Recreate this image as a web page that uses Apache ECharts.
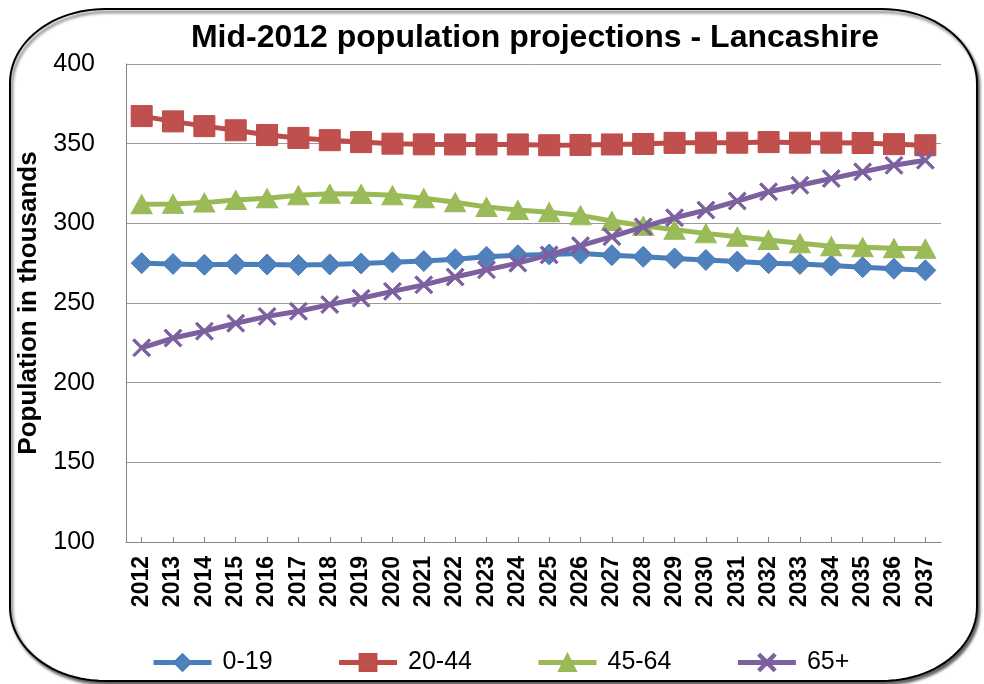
<!DOCTYPE html>
<html>
<head>
<meta charset="utf-8">
<script src="https://cdn.jsdelivr.net/npm/echarts@6/dist/echarts.min.js"></script>
<style>
html,body{margin:0;padding:0;background:#fff;}
#chart{width:984px;height:684px;}
</style>
</head>
<body>
<div id="chart"></div>
<script>
const titleText = 'Mid-2012 population projections - Lancashire';
const yAxisName = 'Population in thousands';
const years = ['2012','2013','2014','2015','2016','2017','2018','2019','2020','2021','2022','2023','2024','2025','2026','2027','2028','2029','2030','2031','2032','2033','2034','2035','2036','2037'];
const seriesNames = ['0-19','20-44','45-64','65+'];
const age0to19 = [275, 274.5, 274, 274.3, 274.2, 273.8, 274.2, 274.8, 275.5, 276.3, 277.5, 279, 280, 280.5, 281, 280, 279, 278, 277, 276, 275, 274.5, 273.5, 272.5, 271.5, 270.5];
const age20to44 = [367.3, 364, 361, 358.4, 355.4, 353.6, 352.2, 351, 350, 349.6, 349.5, 349.5, 349.5, 349, 349.2, 349.5, 349.8, 350.5, 350.6, 350.6, 351, 350.6, 350.6, 350.4, 349.7, 349];
const age45to64 = [312, 312.2, 313, 314.6, 315.8, 317.6, 318.6, 318.4, 317.6, 315.8, 313.2, 310.3, 308.4, 307, 305, 301.5, 298.5, 296, 293.7, 291.6, 289.6, 287.5, 285.6, 285, 284.4, 284];
const age65plus = [221.9, 228, 232.3, 237.3, 241.6, 244.8, 249, 253, 257.3, 261.4, 266.3, 270.8, 275, 280.2, 286, 291.6, 297.8, 303.5, 308.3, 314, 319.8, 323.9, 328.1, 332.3, 336.4, 339.6];
const yMin = 100, yMax = 400, yStep = 50;

const crossPath = 'path://M0,1L1,0L5,4L9,0L10,1L6,5L10,9L9,10L5,6L1,10L0,9L4,5Z';
const styles = [
  {line:'#4A7EBB', fill:'#4F81BD', symbol:'diamond', size:[21,21]},
  {line:'#BE4B48', fill:'#C0504D', symbol:'rect', size:[21,21]},
  {line:'#98B954', fill:'#9BBB59', symbol:'triangle', size:[21,19]},
  {line:'#7D60A0', fill:'#7D60A0', symbol:crossPath, size:[18,18]}
];
const dataSets = [age0to19, age20to44, age45to64, age65plus];

const font = '"Liberation Sans", Arial, sans-serif';
const chart = echarts.init(document.getElementById('chart'));

// Rounded frame with elliptical corners (decoration)
function framePoints(L, T, R, B, rx, ry) {
  const pts = [];
  const corners = [
    [R - rx, T + ry, -90, 0],
    [R - rx, B - ry, 0, 90],
    [L + rx, B - ry, 90, 180],
    [L + rx, T + ry, 180, 270]
  ];
  corners.forEach(([cx, cy, a0, a1]) => {
    for (let k = 0; k <= 24; k++) {
      const a = (a0 + (a1 - a0) * k / 24) * Math.PI / 180;
      pts.push([cx + rx * Math.cos(a), cy + ry * Math.sin(a)]);
    }
  });
  return pts;
}

chart.setOption({
  animation: false,
  backgroundColor: '#fff',
  graphic: [{
    type: 'polygon',
    z: -10,
    silent: true,
    shape: { points: framePoints(10, 9, 977, 681, 95, 74) },
    style: { fill: '#fff', stroke: '#000', lineWidth: 2,
      shadowColor: 'rgba(0,0,0,0.6)', shadowBlur: 3, shadowOffsetX: 2, shadowOffsetY: 3 }
  }],
  title: {
    text: titleText,
    left: 530, top: 17, textAlign: 'center',
    textStyle: { fontFamily: font, fontWeight: 'bold', fontSize: 32, color: '#000' }
  },
  legend: {
    data: seriesNames,
    left: 146, top: 645,
    itemWidth: 58, itemHeight: 21, itemGap: 64,
    lineStyle: { width: 5 },
    textStyle: { fontFamily: font, fontSize: 25, color: '#000', padding: [0,0,0,6] }
  },
  grid: { left: 126, right: 43, top: 64, bottom: 142, containLabel: false },
  xAxis: {
    type: 'category',
    data: years,
    boundaryGap: true,
    axisLine: { lineStyle: { color: '#868686', width: 1 } },
    axisTick: { show: true, alignWithLabel: true, inside: true, length: 5, lineStyle: { color: '#868686' } },
    axisLabel: { rotate: 90, margin: 14, fontFamily: font, fontWeight: 'bold', fontSize: 23, color: '#000', interval: 0 },
    splitLine: { show: false }
  },
  yAxis: {
    type: 'value',
    min: yMin, max: yMax, interval: yStep,
    name: yAxisName,
    nameLocation: 'middle', nameRotate: 90, nameGap: 84,
    nameTextStyle: { fontFamily: font, fontWeight: 'bold', fontSize: 26, color: '#000' },
    axisLine: { show: true, lineStyle: { color: '#868686', width: 1 } },
    axisTick: { show: false },
    axisLabel: { margin: 31, fontFamily: font, fontSize: 25, color: '#000' },
    splitLine: { show: true, lineStyle: { color: '#9a9a9a', width: 1 } }
  },
  series: seriesNames.map((name, i) => ({
    name: name,
    type: 'line',
    data: dataSets[i],
    symbol: styles[i].symbol,
    symbolSize: styles[i].size,
    showAllSymbol: true,
    lineStyle: { color: styles[i].line, width: 5 },
    itemStyle: { color: styles[i].fill, borderColor: styles[i].line, borderWidth: 1 },
    emphasis: { disabled: true },
    z: 2 + i
  }))
});
</script>
</body>
</html>
